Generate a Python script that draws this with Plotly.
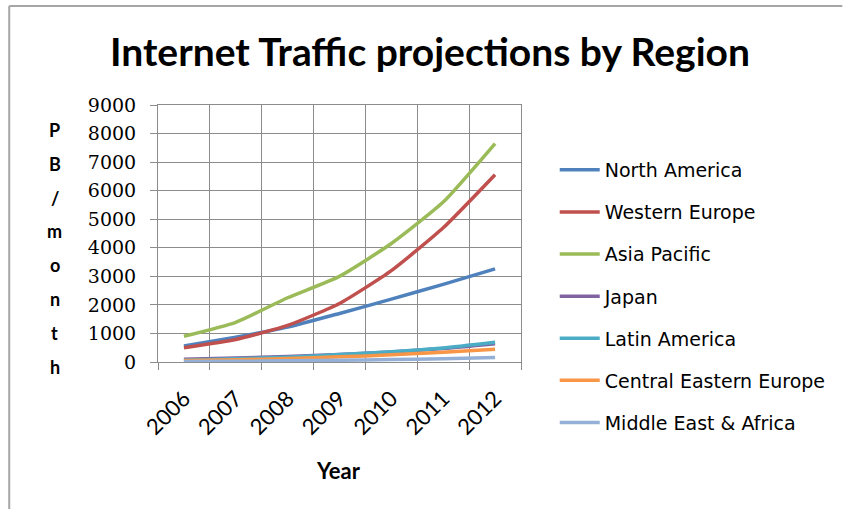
import plotly.graph_objects as go

years = ["2006", "2007", "2008", "2009", "2010", "2011", "2012"]
series_names = ["North America", "Western Europe", "Asia Pacific", "Japan",
                "Latin America", "Central Eastern Europe", "Middle East & Africa"]
north_america = [560, 870, 1220, 1700, 2200, 2720, 3260]
western_europe = [500, 790, 1280, 2050, 3200, 4700, 6560]
asia_pacific = [900, 1390, 2250, 3000, 4150, 5600, 7650]
japan = [100, 140, 190, 260, 350, 470, 640]
latin_america = [60, 110, 170, 260, 360, 490, 690]
central_eastern_europe = [50, 80, 120, 180, 250, 340, 450]
middle_east_africa = [15, 25, 40, 60, 85, 115, 155]
y_ticks = [0, 1000, 2000, 3000, 4000, 5000, 6000, 7000, 8000, 9000]

series_values = [north_america, western_europe, asia_pacific, japan,
                 latin_america, central_eastern_europe, middle_east_africa]
colors = ["#4F81BD", "#C0504D", "#9BBB59", "#8064A2", "#4BACC6", "#F79646", "#95B0D6"]

W, H = 843, 509
L, R, T, B = 158, 524, 105, 362  # plot area pixel bounds

fig = go.Figure()
for i, (name, vals) in enumerate(zip(series_names, series_values)):
    fig.add_trace(go.Scatter(
        x=years, y=vals, name=name, mode="lines", legendgroup=name,
        line=dict(color=colors[i], width=3.5, shape="spline", smoothing=0.5),
    ))

grid = "#8C8C8C"
fig.update_layout(
    width=W, height=H,
    margin=dict(l=L, r=W - R, t=T, b=H - B, pad=0),
    paper_bgcolor="white", plot_bgcolor="white",
    title=dict(text="<b>Internet Traffic projections by Region</b>",
               font=dict(family="Lato", size=39, color="black"),
               x=430 / W, xanchor="center", xref="container",
               y=1 - 52 / H, yanchor="middle", yref="container"),
    xaxis=dict(type="category", tickson="boundaries", range=[-0.5, 6.5],
               showgrid=True, gridcolor=grid, gridwidth=1,
               showline=True, linecolor=grid, linewidth=1, mirror=True,
               ticks="outside", ticklen=7, tickcolor=grid,
               ticklabelstandoff=14,
               tickangle=-45, tickfont=dict(family="Lato", size=22, color="black")),
    yaxis=dict(range=[0, 9000], tickvals=y_ticks, showgrid=True, gridcolor=grid, gridwidth=1,
               showline=True, linecolor=grid, linewidth=1, mirror=True, zeroline=False,
               ticks="outside", ticklen=7, tickcolor=grid,
               ticklabelstandoff=10,
               tickfont=dict(family="DejaVu Serif", size=19, color="black")),
    legend=dict(x=(558 - L) / (R - L), xanchor="left",
                y=(B - 151) / (B - T), yanchor="top",
                font=dict(family="DejaVu Sans", size=19, color="black"),
                tracegroupgap=14.4, itemwidth=40, bgcolor="rgba(0,0,0,0)",
                maxheight=600),
    showlegend=True,
)

# stacked y-axis title letters
label = "PB/month"
for k, ch in enumerate(label):
    py = 130 + k * 33.8
    fig.add_annotation(text="<b>%s</b>" % ch, xref="paper", yref="paper",
                       x=(54 - L) / (R - L), y=(B - py) / (B - T),
                       xanchor="center", yanchor="middle", showarrow=False,
                       font=dict(family="Lato", size=18, color="black"))

fig.add_annotation(text="<b>Year</b>", xref="paper", yref="paper",
                   x=(340 - L) / (R - L), y=(B - 470) / (B - T),
                   xanchor="center", yanchor="middle", showarrow=False,
                   font=dict(family="Lato", size=22, color="black"))

# frame lines (left and top)
def px(x):
    return (x - L) / (R - L)

def py_(y):
    return (B - y) / (B - T)

fig.add_shape(type="line", xref="paper", yref="paper",
              x0=px(8), x1=px(8), y0=py_(6), y1=py_(H + 5),
              line=dict(color="#A6A6A6", width=2))
fig.add_shape(type="line", xref="paper", yref="paper",
              x0=px(8), x1=px(W + 5), y0=py_(6), y1=py_(6),
              line=dict(color="#A6A6A6", width=2))

fig.write_html("out.html")
